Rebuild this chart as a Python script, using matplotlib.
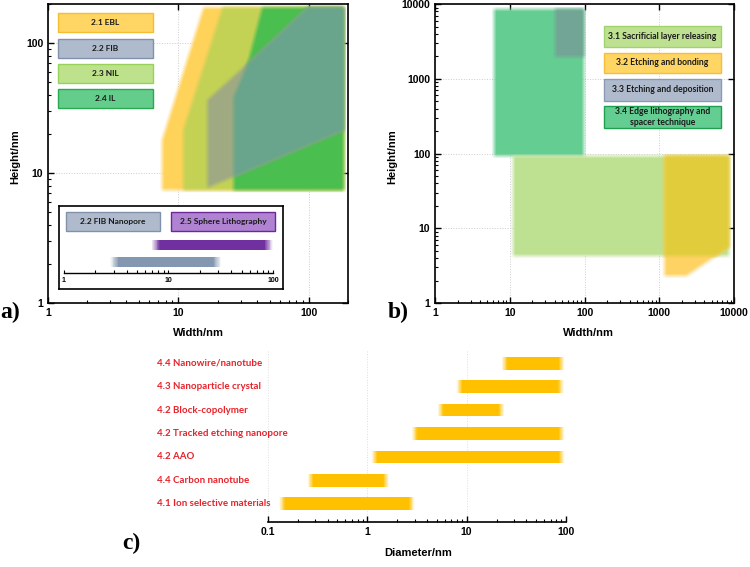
import matplotlib
matplotlib.use('Agg')
import matplotlib.pyplot as plt
import matplotlib.ticker as ticker
from matplotlib.patches import Polygon, Rectangle
import numpy as np

plt.rcParams['font.family'] = ['Liberation Sans', 'DejaVu Sans']
plt.rcParams['font.weight'] = 'bold'
lbl_font = ['Lato', 'DejaVu Sans']

# ---- panel a : 2D lithography regions (width, height in nm)
ebl_w = [7.5, 7.5, 15.6, 186, 186]
ebl_h = [7.4, 18, 189, 189, 7.4]
nil_w = [10.9, 10.9, 21.8, 186, 186]
nil_h = [7.4, 21.5, 189, 189, 7.4]
il_w = [26.5, 26.5, 34, 44, 186, 186]
il_h = [7.4, 38.5, 70, 189, 189, 7.4]
fib_w = [16.7, 16.7, 34, 98, 186, 186]
fib_h = [7.7, 36.6, 70, 189, 189, 21.4]
a_legend = ['2.1 EBL', '2.2 FIB', '2.3 NIL', '2.4 IL']
# inset 1D ranges (nm)
inset_labels = ['2.2 FIB Nanopore', '2.5 Sphere Lithography']
inset_lo = [2.76, 6.9]
inset_hi = [32, 100]

# ---- panel b
sac_w = [11, 8600]
sac_h = [4.2, 94]
bond_w = [1170, 8600, 8600, 2300, 1170]
bond_h = [94, 94, 5.6, 2.3, 2.3]
edge_w = [6.1, 97]
edge_h = [94, 8600]
etch_w = [40, 97]
etch_h = [1970, 8600]
b_legend = ['3.1 Sacrificial layer releasing', '3.2 Etching and bonding',
            '3.3 Etching and deposition', '3.4 Edge lithography and\nspacer technique']

# ---- panel c : diameter ranges (nm)
c_labels = ['4.1 Ion selective materials', '4.4 Carbon nanotube', '4.2 AAO',
            '4.2 Tracked etching nanopore', '4.2 Block-copolymer',
            '4.3 Nanoparticle crystal', '4.4 Nanowire/nanotube']
c_lo = [0.13, 0.25, 1.1, 2.8, 5.1, 7.9, 22.5]
c_hi = [3.0, 1.65, 97, 97, 24, 95, 97]

fmt = ticker.FuncFormatter(lambda v, p: '%g' % v)


def box_smooth(a, r):
    for ax_ in (0, 1):
        out = np.zeros_like(a)
        for d in range(-r, r+1):
            out += np.roll(a, d, axis=ax_)
        a = out/(2*r+1)
    return a


def soft_edge(im, dpi):
    # blur the region edges a little, like the fuzzy shapes of the original
    pad = 6
    a = np.pad(im, ((pad, pad), (pad, pad), (0, 0)))
    al = a[..., 3:4]
    rgb = box_smooth(a[..., :3]*al, 2)
    al2 = box_smooth(al, 2)
    rgb = np.where(al2 > 1e-4, rgb/np.maximum(al2, 1e-4), 0)
    return np.concatenate([rgb, al2], axis=2), -pad, -pad


def soft_bar(ax, y, lo, hi, h, color, fade=0.07, n=10):
    a, b = np.log10(lo), np.log10(hi)
    ax.barh(y, 10**(b-fade) - 10**(a+fade), left=10**(a+fade), height=h, color=color, lw=0)
    for i in range(n):
        al = (i+0.5)/n
        s0, s1 = a+fade*i/n, a+fade*(i+1)/n
        ax.barh(y, 10**s1-10**s0, left=10**s0, height=h, color=color, alpha=al, lw=0)
        e0, e1 = b-fade*(i+1)/n, b-fade*i/n
        ax.barh(y, 10**e1-10**e0, left=10**e0, height=h, color=color, alpha=al, lw=0)


def style_log_axes(ax, xlim, ylim):
    ax.set_xscale('log')
    ax.set_yscale('log')
    ax.set_xlim(*xlim)
    ax.set_ylim(*ylim)
    ax.xaxis.set_major_formatter(fmt)
    ax.yaxis.set_major_formatter(fmt)
    ax.xaxis.set_minor_formatter(ticker.NullFormatter())
    ax.yaxis.set_minor_formatter(ticker.NullFormatter())
    ax.tick_params(which='major', direction='in', length=4, width=1, labelsize=7.5,
                   top=True, right=True)
    ax.tick_params(which='minor', direction='in', length=2, width=0.8, top=False, right=False)
    ax.grid(True, which='major', color='#cccccc', linestyle=':', linewidth=0.7)
    ax.set_axisbelow(True)
    for s in ax.spines.values():
        s.set_linewidth(1.2)


def legend_box(ax, x, y, w, h, text, fc, ec, size=6):
    ax.add_patch(Rectangle((x, y), w, h, transform=ax.transAxes, fc=fc, ec=ec, lw=1, zorder=5))
    ax.text(x+w/2, y+h/2, text, transform=ax.transAxes, ha='center', va='center',
            fontsize=size, family=lbl_font, fontweight='bold', color='#1a1a1a', zorder=6,
            linespacing=1.3)


def add_region(ax, patch, clip=None):
    ax.add_patch(patch)
    if clip is not None:
        patch.set_clip_path(clip)
    patch.set_agg_filter(soft_edge)
    return patch


fig = plt.figure(figsize=(7.5, 5.67), dpi=100)

# ================= panel a
ax_a = fig.add_axes([0.064, 0.4656, 0.4, 0.527])
style_log_axes(ax_a, (1, 200), (1, 200))
add_region(ax_a, Polygon(list(zip(ebl_w, ebl_h)), fc='#FFD25A', ec='none', zorder=2))
add_region(ax_a, Polygon(list(zip(nil_w, nil_h)), fc='#C3D255', ec='none', zorder=3))
il_p = Polygon(list(zip(il_w, il_h)), fc='#4BBE50', ec='none', zorder=4)
add_region(ax_a, il_p)
add_region(ax_a, Polygon(list(zip(fib_w, fib_h)), fc='#A0AA82', ec='none', zorder=4.5))
add_region(ax_a, Polygon(list(zip(fib_w, fib_h)), fc='#69A58C', ec='none', zorder=4.6), clip=il_p)

a_fc = ['#FFD564', '#AFBBCD', '#BEE18C', '#64CD8C']
a_ec = ['#F5BE32', '#8291AA', '#96D25A', '#28AA50']
a_tops = [0.970, 0.883, 0.799, 0.716]
for t, fc, ec, top in zip(a_legend, a_fc, a_ec, a_tops):
    legend_box(ax_a, 0.033, top-0.063, 0.317, 0.063, t, fc, ec)

# inset frame
ax_in = fig.add_axes([0.0787, 0.4903, 0.2987, 0.1464])
ax_in.set_xticks([])
ax_in.set_yticks([])
for s in ax_in.spines.values():
    s.set_linewidth(1.2)
legend_box(ax_in, 0.031, 0.699, 0.42, 0.229, inset_labels[0], '#AFBBCD', '#8291AA', 6)
legend_box(ax_in, 0.50, 0.699, 0.464, 0.229, inset_labels[1], '#AF82D2', '#6E2896', 6)

ax_sc = fig.add_axes([0.0853, 0.5185, 0.2787, 0.0653])
ax_sc.patch.set_alpha(0)
ax_sc.set_xscale('log')
ax_sc.set_xlim(1, 100)
ax_sc.set_ylim(0, 1)
ax_sc.set_yticks([])
for k in ['left', 'right', 'top']:
    ax_sc.spines[k].set_visible(False)
ax_sc.spines['bottom'].set_linewidth(1)
ax_sc.xaxis.set_major_formatter(fmt)
ax_sc.xaxis.set_minor_formatter(ticker.NullFormatter())
ax_sc.tick_params(which='both', direction='in', length=2, width=0.8, labelsize=5, pad=3)
soft_bar(ax_sc, 0.30, inset_lo[0], inset_hi[0], 0.27, '#8497B0', fade=0.08)
soft_bar(ax_sc, 0.757, inset_lo[1], inset_hi[1], 0.27, '#7030A0', fade=0.08)

# ================= panel b
ax_b = fig.add_axes([0.58, 0.4656, 0.3987, 0.527])
style_log_axes(ax_b, (1, 10000), (1, 10000))
add_region(ax_b, Rectangle((edge_w[0], edge_h[0]), edge_w[1]-edge_w[0], edge_h[1]-edge_h[0],
                           fc='#64CD91', ec='none', zorder=2))
add_region(ax_b, Rectangle((etch_w[0], etch_h[0]), etch_w[1]-etch_w[0], etch_h[1]-etch_h[0],
                           fc='#73A596', ec='none', zorder=3))
sac_p = Rectangle((sac_w[0], sac_h[0]), sac_w[1]-sac_w[0], sac_h[1]-sac_h[0],
                  fc='#BEE191', ec='none', zorder=2)
add_region(ax_b, sac_p)
add_region(ax_b, Polygon(list(zip(bond_w, bond_h)), fc='#FFD264', ec='none', zorder=3))
add_region(ax_b, Polygon(list(zip(bond_w, bond_h)), fc='#E1CD3C', ec='none', zorder=3.5), clip=sac_p)

b_fc = ['#BEE191', '#FFD564', '#AFBBCD', '#64CD91']
b_ec = ['#A0D26E', '#F5BE3C', '#8C9BB4', '#1EA050']
b_tops = [0.927, 0.837, 0.750, 0.660]
b_hts = [0.07, 0.067, 0.073, 0.073]
for t, fc, ec, top, hh in zip(b_legend, b_fc, b_ec, b_tops, b_hts):
    legend_box(ax_b, 0.565, top-hh, 0.391, hh, t, fc, ec, 6.2)

# ================= panel c
ax_c = fig.add_axes([0.3573, 0.0794, 0.3973, 0.303])
ax_c.set_xscale('log')
ax_c.set_xlim(0.1, 100)
ax_c.set_ylim(-0.77, 6.55)
ax_c.set_yticks([])
for k in ['left', 'right', 'top']:
    ax_c.spines[k].set_visible(False)
ax_c.spines['bottom'].set_linewidth(1.2)
ax_c.xaxis.set_major_formatter(fmt)
ax_c.xaxis.set_minor_formatter(ticker.NullFormatter())
ax_c.tick_params(which='major', direction='in', length=4, width=1, labelsize=7.5)
ax_c.tick_params(which='minor', direction='in', length=2, width=0.8)
ax_c.grid(True, which='major', axis='x', color='#dddddd', linestyle=':', linewidth=0.7)
ax_c.set_axisbelow(True)
for i, (lab, lo, hi) in enumerate(zip(c_labels, c_lo, c_hi)):
    soft_bar(ax_c, i, lo, hi, 0.55, '#FFC000', fade=0.06)
    ax_c.text(-0.372, i, lab, transform=ax_c.get_yaxis_transform(), ha='left', va='center',
              fontsize=7, family=lbl_font, fontweight='bold', color='#E8222A')

# axis labels and panel letters
fig.text(0.02, 1-157/567, 'Height/nm', rotation=90, ha='center', va='center', fontsize=8)
fig.text(392/750, 1-157/567, 'Height/nm', rotation=90, ha='center', va='center', fontsize=8)
fig.text(198/750, 1-333/567, 'Width/nm', ha='center', va='center', fontsize=8)
fig.text(588/750, 1-333/567, 'Width/nm', ha='center', va='center', fontsize=8)
fig.text(418/750, 1-553/567, 'Diameter/nm', ha='center', va='center', fontsize=8)
for letter, x, y in [('a)', 0.0, 312), ('b)', 388/750, 312), ('c)', 122/750, 543)]:
    fig.text(x, 1-y/567, letter, ha='left', va='center', fontsize=17,
             family=['Liberation Serif', 'DejaVu Serif'], fontweight='bold')

fig.savefig('out.png', dpi=100)
